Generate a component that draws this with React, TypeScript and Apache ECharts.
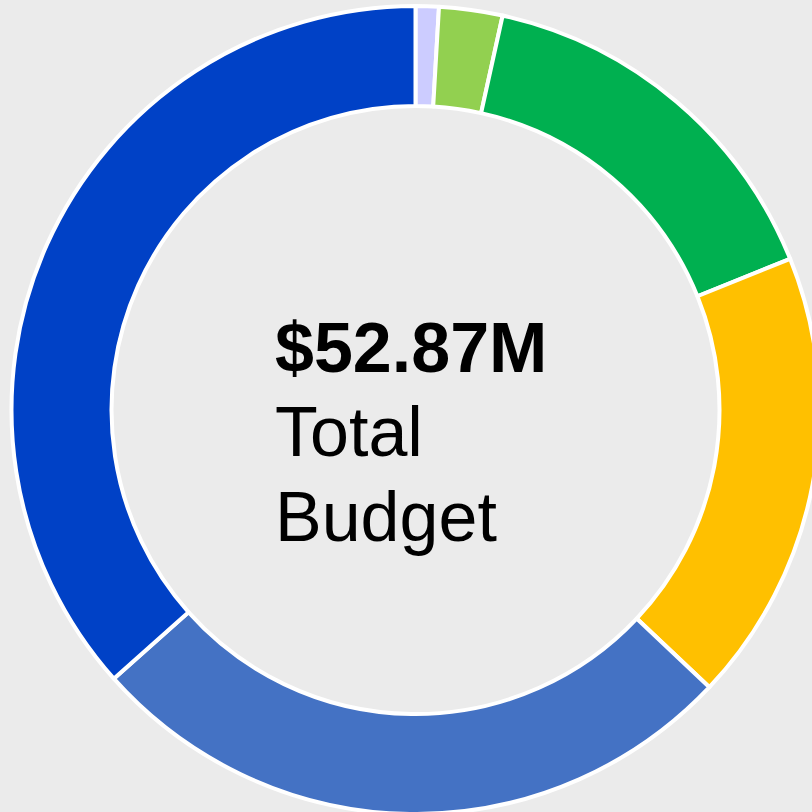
import React, { useEffect, useRef } from "react";
import * as echarts from "echarts";

const categories = ["Segment A", "Segment B", "Segment C", "Segment D", "Segment E", "Segment F"];
const values = [0.49, 1.34, 8.16, 9.59, 13.95, 19.34];
const colors = ["#ccccff", "#92d050", "#00b050", "#ffc000", "#4472c4", "#0041c6"];
const centerLines = ["$52.87M", "Total", "Budget"];

export default function App() {
  const ref = useRef<HTMLDivElement>(null);
  useEffect(() => {
    if (!ref.current) return;
    const chart = echarts.init(ref.current, null, { renderer: "svg" });
    const font = "'Liberation Sans', Arial, sans-serif";
    chart.setOption({
      animation: false,
      backgroundColor: "#ebebeb",
      series: [
        {
          type: "pie",
          center: [415.5, 410],
          radius: [304, 404],
          startAngle: 90,
          clockwise: true,
          label: { show: false },
          labelLine: { show: false },
          emphasis: { disabled: true },
          itemStyle: { borderColor: "#ffffff", borderWidth: 4 },
          data: categories.map((name, i) => ({
            name,
            value: values[i],
            itemStyle: { color: colors[i] },
          })),
        },
      ],
      graphic: [
        {
          type: "text",
          x: 275,
          y: 348,
          style: {
            text: centerLines[0],
            font: `bold 70px ${font}`,
            fill: "#000",
            textAlign: "left",
            textVerticalAlign: "middle",
          },
        },
        {
          type: "text",
          x: 275,
          y: 432,
          style: {
            text: centerLines[1],
            font: `70px ${font}`,
            fill: "#000",
            textAlign: "left",
            textVerticalAlign: "middle",
          },
        },
        {
          type: "text",
          x: 275,
          y: 517,
          style: {
            text: centerLines[2],
            font: `70px ${font}`,
            fill: "#000",
            textAlign: "left",
            textVerticalAlign: "middle",
          },
        },
      ],
    });
    return () => chart.dispose();
  }, []);
  return (
    <div
      ref={ref}
      style={{ position: "fixed", left: 0, top: 0, width: 812, height: 812 }}
    />
  );
}
